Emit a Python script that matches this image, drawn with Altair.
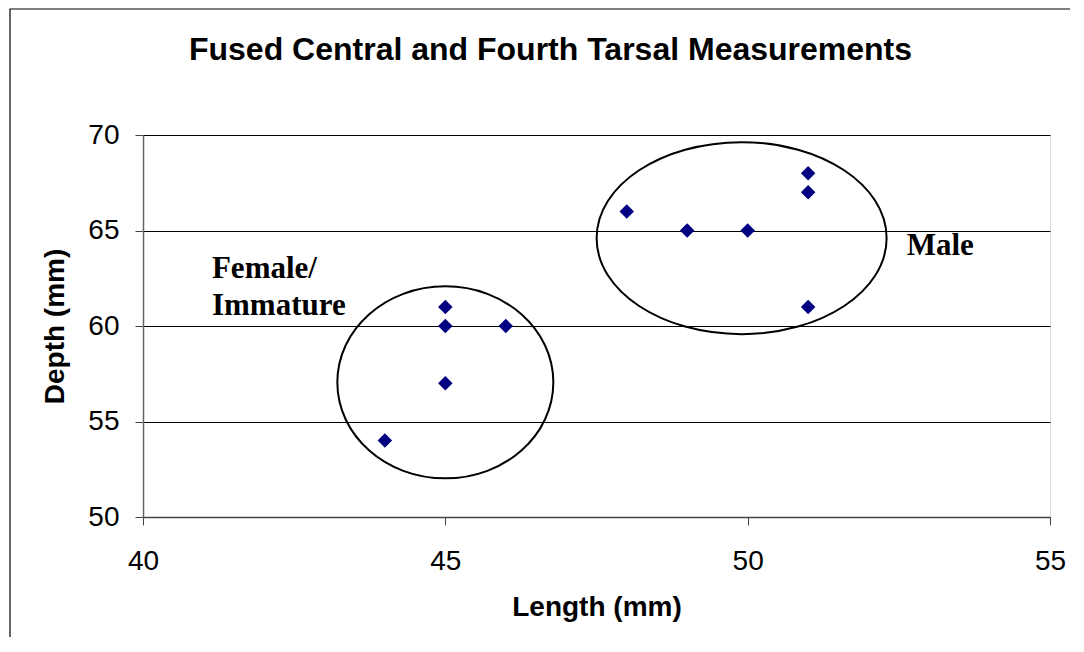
import altair as alt
import pandas as pd

# ---- data ----
length_mm = [44, 45, 45, 45, 46, 48, 49, 50, 51, 51, 51]
depth_mm = [54, 57, 60, 61, 60, 66, 65, 65, 68, 67, 61]

group_names = ["Female/Immature", "Male"]
group_cx = [45.0, 49.9]
group_cy = [57.05, 64.6]

label_text = ["Female/", "Immature", "Male"]
label_x = [41.14, 41.14, 52.63]
label_y = [62.51, 60.58, 63.72]

x_ticks = [40, 45, 50, 55]
y_ticks = [50, 55, 60, 65, 70]

W, H = 907, 382

pts = pd.DataFrame({"Length": length_mm, "Depth": depth_mm})
ell = pd.DataFrame({"group": group_names, "cx": group_cx, "cy": group_cy})
lab = pd.DataFrame({"text": label_text, "x": label_x, "y": label_y})
frame_df = pd.DataFrame({"k": [0]})

SANS = "Liberation Sans"
SERIF = "Liberation Serif"

xscale = alt.Scale(domain=[40, 55], nice=False, zero=False)
yscale = alt.Scale(domain=[50, 70], nice=False, zero=False)

xaxis = alt.Axis(values=x_ticks, title="Length (mm)", grid=False, format="d",
                 labelFlush=False, labelOverlap=False,
                 tickSize=8, tickColor="#444", domainColor="#444", domainWidth=1.5,
                 labelPadding=22, labelFontSize=28, labelFont=SANS, labelColor="black",
                 titleFontSize=28, titleFont=SANS, titleFontWeight="bold",
                 titleColor="black", titlePadding=18)
yaxis = alt.Axis(values=y_ticks, title="Depth (mm)", grid=True, format="d",
                 labelFlush=False, labelOverlap=False,
                 gridColor="black", gridWidth=1, gridOpacity=1,
                 tickSize=8, tickColor="#444", domainColor="#666", domainWidth=1.5,
                 labelPadding=16, labelFontSize=28, labelFont=SANS, labelColor="black",
                 titleFontSize=28, titleFont=SANS, titleFontWeight="bold",
                 titleColor="black", titlePadding=18)

points = alt.Chart(pts).mark_point(
    shape="diamond", filled=True, size=210, color="#000080", opacity=1
).encode(
    x=alt.X("Length:Q", scale=xscale, axis=xaxis),
    y=alt.Y("Depth:Q", scale=yscale, axis=yaxis),
)

fem_path = "M-1,0A1,0.889,0,1,1,1,0A1,0.889,0,1,1,-1,0Z"
male_path = "M-1,0A1,0.662,0,1,1,1,0A1,0.662,0,1,1,-1,0Z"

ell_f = alt.Chart(ell).transform_filter(alt.datum.group == "Female/Immature").mark_point(
    shape=fem_path, size=216 * 216, filled=False, stroke="black", strokeWidth=2, opacity=1
).encode(x=alt.X("cx:Q", scale=xscale), y=alt.Y("cy:Q", scale=yscale))

ell_m = alt.Chart(ell).transform_filter(alt.datum.group == "Male").mark_point(
    shape=male_path, size=290 * 290, filled=False, stroke="black", strokeWidth=2, opacity=1
).encode(x=alt.X("cx:Q", scale=xscale), y=alt.Y("cy:Q", scale=yscale))

labels = alt.Chart(lab).mark_text(
    font=SERIF, fontWeight="bold", fontSize=31, align="left", baseline="alphabetic",
    color="black"
).encode(x=alt.X("x:Q", scale=xscale), y=alt.Y("y:Q", scale=yscale), text="text:N")

frame = alt.Chart(frame_df).mark_rect(
    fillOpacity=0, stroke="black", strokeWidth=1.2
).encode(
    x=alt.value(-133), x2=alt.value(W + 100),
    y=alt.value(-126), y2=alt.value(H + 200),
)

chart = alt.layer(frame, ell_f, ell_m, points, labels).properties(
    width=W, height=H,
    title=alt.TitleParams(
        "Fused Central and Fourth Tarsal Measurements",
        fontSize=32, font=SANS, fontWeight="bold", color="black",
        anchor="middle", dx=-46, offset=-59,
    ),
    autosize=alt.AutoSizeParams(type="none"),
    padding={"left": 135, "top": 127, "right": 20, "bottom": 120},
).configure_view(
    stroke="#808080", strokeWidth=2
).configure(background="white")

chart.save("out.html", embed_options={"renderer": "svg", "actions": False})
